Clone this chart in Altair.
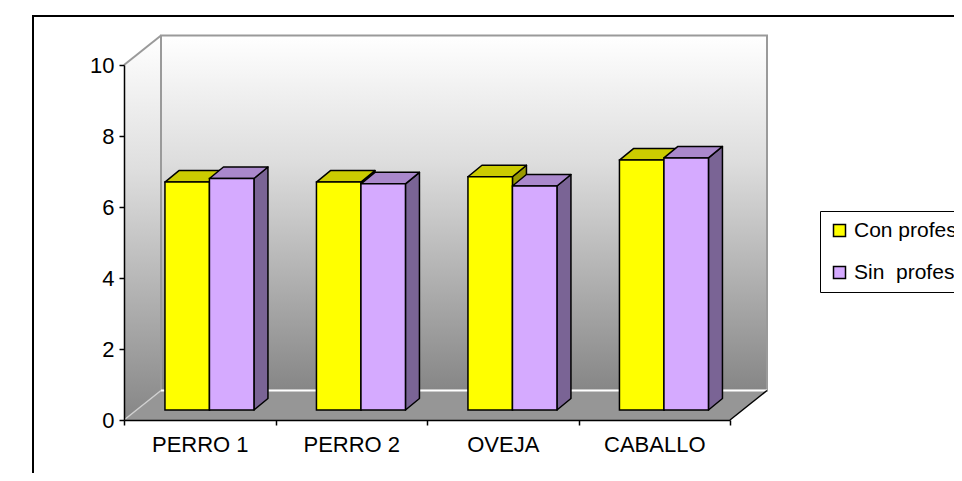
import altair as alt
import pandas as pd

# ---------------- data ----------------
CATEGORIES = ["PERRO 1", "PERRO 2", "OVEJA", "CABALLO"]
SERIES = ["Con profesor", "Sin\u00a0 profesor"]
CON_PROFESOR = [6.42, 6.42, 6.57, 7.04]
SIN_PROFESOR = [6.52, 6.37, 6.31, 7.10]
Y_TICKS = [0, 2, 4, 6, 8, 10]

# ---------------- style ----------------
FONT = "Liberation Sans"
FRONT = ["#FFFF00", "#D5AAFF"]
TOP = ["#CCCC00", "#AA88CC"]
SIDE = ["#999900", "#7A6495"]

# geometry of the pseudo-3D look, in data units
PX_U, PX_V = 151.5, 35.5            # pixels per category unit / per value unit
N = len(CATEGORIES)
YMAX = 10
FLOOR_DU, FLOOR_DV = 37 / PX_U, 29.5 / PX_V
BAR_W = 44.5 / PX_U
BAR_SHIFT = 9.7 / PX_U
BAR_BASE = 10 / PX_V
BAR_DU, BAR_DV = 14 / PX_U, 11.5 / PX_V

values = [CON_PROFESOR, SIN_PROFESOR]

front_rows, side_rows, top_rows = [], [], []
for s, vals in enumerate(values):
    for k, v in enumerate(vals):
        c = k + 0.5 + BAR_SHIFT
        uL = c - BAR_W if s == 0 else c
        uR = uL + BAR_W
        y0 = BAR_BASE
        y1 = BAR_BASE + v
        bid = f"{s}-{k}"
        front_rows.append(dict(s=s, series=SERIES[s], cat=CATEGORIES[k], uL=uL, uR=uR, y0=y0, y1=y1, value=v))
        side_rows += [
            dict(s=s, bar=bid, x=uR, y=y0, y2=y1),
            dict(s=s, bar=bid, x=uR + BAR_DU, y=y0 + BAR_DV, y2=y1 + BAR_DV),
        ]
        top_rows += [
            dict(s=s, bar=bid, x=uL, y=y1, y2=y1),
            dict(s=s, bar=bid, x=uL + BAR_DU, y=y1, y2=y1 + BAR_DV),
            dict(s=s, bar=bid, x=uR, y=y1, y2=y1 + BAR_DV),
            dict(s=s, bar=bid, x=uR + BAR_DU, y=y1 + BAR_DV, y2=y1 + BAR_DV),
        ]

front_df = pd.DataFrame(front_rows)
side_df = pd.DataFrame(side_rows)
top_df = pd.DataFrame(top_rows)

# ---------------- scales / axes ----------------
xs = alt.Scale(domain=[0, N], nice=False, zero=False)
ys = alt.Scale(domain=[0, YMAX], nice=False, zero=False)

cats_js = "[" + ",".join("'" + c + "'" for c in CATEGORIES) + "]"
x_axis = alt.Axis(
    values=[i * 0.5 for i in range(2 * N + 1)],
    labelExpr=f"datum.value % 1 == 0.5 ? {cats_js}[floor(datum.value)] : ''",
    tickOpacity={"condition": {"test": "datum.value % 1 == 0", "value": 1}, "value": 0},
    title=None, grid=False, tickSize=5, tickColor="black", domainColor="black",
    domainWidth=1.5, tickWidth=1.5, labelFontSize=22, labelFont=FONT, labelColor="black",
    labelPadding=9, labelOverlap=False, labelFlush=False, zindex=1,
)
y_axis = alt.Axis(
    values=Y_TICKS, format="d", title=None, grid=False, tickSize=5, tickColor="black",
    domainColor="black", domainWidth=1.5, tickWidth=1.5, labelFontSize=22, labelFont=FONT,
    labelColor="black", labelPadding=5, zindex=1,
)


def X(f):
    return alt.X(f, type="quantitative", scale=xs, axis=x_axis)


def Y(f):
    return alt.Y(f, type="quantitative", scale=ys, axis=y_axis, stack=None)


wall_grad = alt.Gradient(
    gradient="linear",
    stops=[alt.GradientStop(color="#FFFFFF", offset=0),
           alt.GradientStop(color="#DEDEDE", offset=0.35),
           alt.GradientStop(color="#868686", offset=1)],
    x1=0, x2=0, y1=0, y2=1,
)

# ---------------- decoration ----------------
border = alt.Chart(pd.DataFrame({"x": [-91 / PX_U], "x2": [N + 2], "y": [404 / PX_V], "y2": [-3]})).mark_rect(
    fillOpacity=0, stroke="black", strokeWidth=2
).encode(x=X("x"), x2="x2", y=Y("y"), y2="y2")

side_wall = alt.Chart(pd.DataFrame({"x": [0, FLOOR_DU], "y": [0, FLOOR_DV], "y2": [YMAX, YMAX + FLOOR_DV]})).mark_area(
    fill=wall_grad, orient="vertical"
).encode(x=X("x"), y=Y("y"), y2="y2")

back_wall = alt.Chart(pd.DataFrame({"x": [FLOOR_DU], "x2": [N + FLOOR_DU], "y": [FLOOR_DV], "y2": [YMAX + FLOOR_DV]})).mark_rect(
    fill=wall_grad, stroke="#9A9A9A", strokeWidth=2
).encode(x=X("x"), x2="x2", y=Y("y"), y2="y2")

floor = alt.Chart(pd.DataFrame({
    "x": [0, FLOOR_DU, N, N + FLOOR_DU],
    "y": [0, 0, 0, FLOOR_DV],
    "y2": [0, FLOOR_DV, FLOOR_DV, FLOOR_DV],
})).mark_area(fill="#969696", orient="vertical").encode(x=X("x"), y=Y("y"), y2="y2")

edges = alt.Chart(pd.DataFrame({
    "x": [0, FLOOR_DU, 0, N],
    "x2": [FLOOR_DU, N + FLOOR_DU, FLOOR_DU, N + FLOOR_DU],
    "y": [YMAX, FLOOR_DV, 0, 0],
    "y2": [YMAX + FLOOR_DV, FLOOR_DV, FLOOR_DV, FLOOR_DV],
    "col": ["#9A9A9A", "#FFFFFF", "#D0D0D0", "#000000"],
    "w": [2, 2, 1.5, 1.5],
})).mark_rule().encode(
    x=X("x"), x2="x2", y=Y("y"), y2="y2",
    color=alt.Color("col:N", scale=None), strokeWidth=alt.StrokeWidth("w:Q", scale=None),
)

# ---------------- bars ----------------
legend = alt.Legend(
    orient="none", legendX=696, legendY=146, title=None, fillColor="white",
    strokeColor="black", padding=9, symbolType="square", symbolSize=144,
    symbolStrokeColor="black", symbolStrokeWidth=1.5, labelFontSize=21, labelFont=FONT,
    labelColor="black", labelOffset=4, rowPadding=20,
)

bar_layers = []
for s in range(2):
    side = alt.Chart(side_df).transform_filter(f"datum.s == {s}").mark_area(
        fill=SIDE[s], stroke="black", strokeWidth=1.5, strokeJoin="round", orient="vertical"
    ).encode(x=X("x"), y=Y("y"), y2="y2", detail="bar:N")
    top = alt.Chart(top_df).transform_filter(f"datum.s == {s}").mark_area(
        fill=TOP[s], stroke="black", strokeWidth=1.5, strokeJoin="round", orient="vertical"
    ).encode(x=X("x"), y=Y("y"), y2="y2", detail="bar:N")
    front = alt.Chart(front_df).transform_filter(f"datum.s == {s}").mark_rect(
        stroke="black", strokeWidth=1.5
    ).encode(
        x=X("uL"), x2="uR", y=Y("y0"), y2="y1",
        fill=alt.Fill("series:N", scale=alt.Scale(domain=SERIES, range=FRONT), legend=legend),
    )
    bar_layers += [side, top, front]

chart = alt.layer(border, side_wall, back_wall, floor, edges, *bar_layers).properties(
    width=606, height=355,
    padding={"left": 116, "top": 57, "right": 224, "bottom": 53},
    autosize=alt.AutoSizeParams(type="none"),
    background="white",
).configure_view(stroke=None)

chart.save("out.html", embed_options={"renderer": "svg", "actions": False})
